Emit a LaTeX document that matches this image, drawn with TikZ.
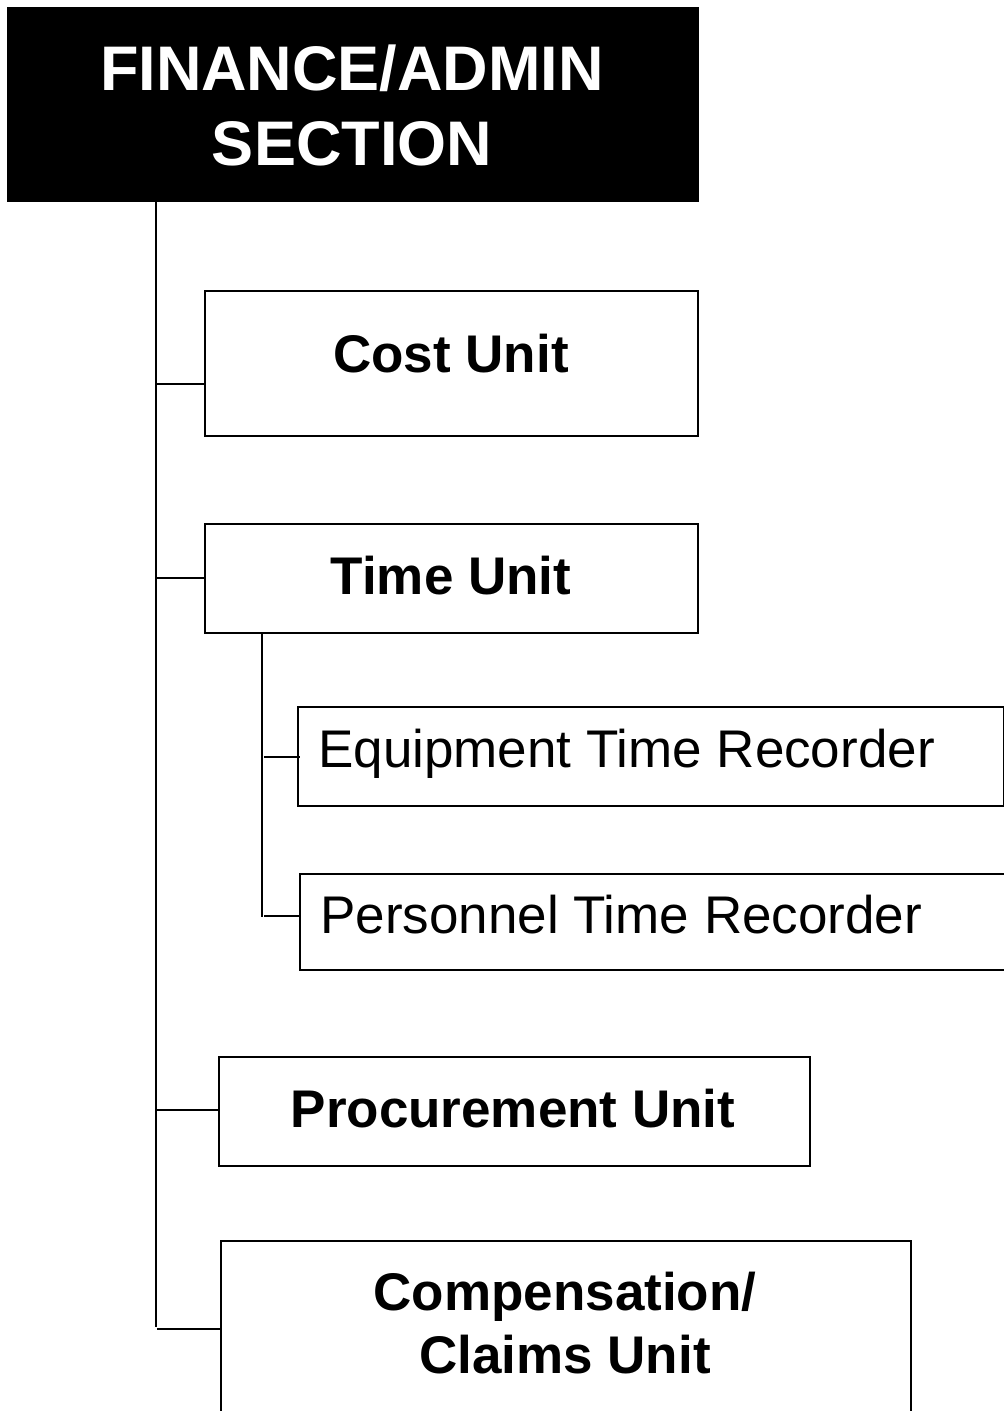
\documentclass[tikz,border=0pt]{standalone}
\usepackage{fontspec}
\setmainfont{Liberation Sans}
\begin{document}
\begin{tikzpicture}[x=1pt,y=-1pt,
  box/.style={draw=black,line width=2pt,fill=white,inner sep=0pt,anchor=north west},
  titlebox/.style={draw=black,fill=black,inner sep=0pt,anchor=north west},
  conn/.style={draw=black,line width=2pt},
  unittext/.style={anchor=base,inner sep=0pt,font=\fontsize{53}{63}\selectfont\bfseries},
  rectext/.style={anchor=base west,inner sep=0pt,font=\fontsize{53}{63}\selectfont},
  titletext/.style={anchor=base,inner sep=0pt,text=white,font=\fontsize{63}{75}\selectfont\bfseries}]
\useasboundingbox (0,0) rectangle (1004,1411);
% title
\node[titlebox,minimum width=691pt,minimum height=194pt] (title) at (6.5,6.5) {};
\node[titletext] (title1) at (352,90) {FINANCE/ADMIN};
\node[titletext] (title2) at (352,165) {SECTION};
% boxes
\node[box,minimum width=493pt,minimum height=145pt] (cost) at (204,290) {};
\node[box,minimum width=493pt,minimum height=109pt] (time) at (204,523) {};
\node[box,minimum width=706pt,minimum height=99pt] (equip) at (296.5,706) {};
\node[box,minimum width=720pt,minimum height=96pt] (pers) at (299,873) {};
\node[box,minimum width=591pt,minimum height=109pt] (proc) at (218,1056) {};
\node[box,minimum width=690pt,minimum height=200pt] (comp) at (220,1240) {};
% texts
\node[unittext] (costt) at (451,372) {Cost Unit};
\node[unittext] (timet) at (451,594) {Time Unit};
\node[rectext] (equipt) at (318,767) {Equipment Time Recorder};
\node[rectext] (perst) at (320,933) {Personnel Time Recorder};
\node[unittext] (proct) at (513,1127) {Procurement Unit};
\node[unittext] (compt1) at (565,1310) {Compensation/};
\node[unittext] (compt2) at (565,1373) {Claims Unit};
% trunk
\coordinate (t0) at (156,200);
\coordinate (t1) at (156,1327);
\draw[conn] (t0) -- (t1);
\coordinate (jc) at (156,384);
\coordinate (jt) at (156,578);
\coordinate (jp) at (157,1110);
\coordinate (jm) at (157,1329);
\draw[conn] (jc) -- (jc -| cost.west);
\draw[conn] (jt) -- (jt -| time.west);
\draw[conn] (jp) -- (jp -| proc.west);
\draw[conn] (jm) -- (jm -| comp.west);
% sub trunk
\coordinate (s0) at (262,632);
\coordinate (s1) at (262,917);
\draw[conn] (s0) -- (s1);
\coordinate (je) at (264,757);
\coordinate (jr) at (264,916);
\draw[conn] (je) -- ([xshift=3pt]je -| equip.west);
\draw[conn] (jr) -- (jr -| pers.west);
\end{tikzpicture}
\end{document}
